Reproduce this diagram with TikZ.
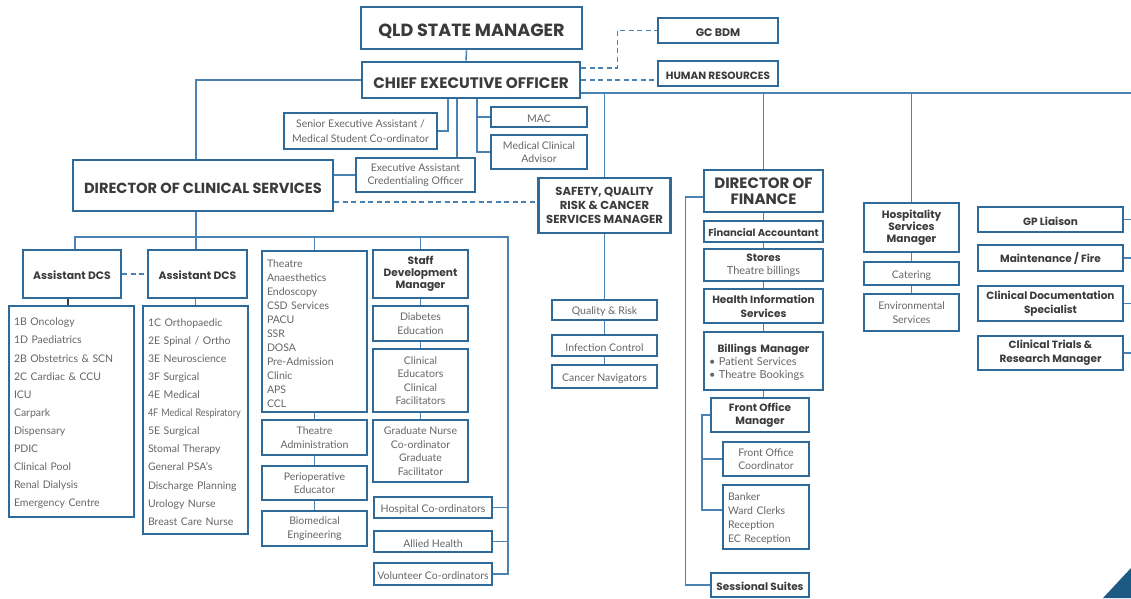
\documentclass[tikz,border=0pt]{standalone}
\usepackage{fontspec}
\setmainfont{Lato}
\newfontfamily\hd{Poppins}
\usetikzlibrary{backgrounds}
\definecolor{boxblue}{HTML}{2F6B9A}
\definecolor{lineblue}{HTML}{4A83B3}
\definecolor{txtdark}{HTML}{3B3B3B}
\definecolor{txtgray}{HTML}{666666}
\definecolor{tricol}{HTML}{1D5A83}
\newcommand\myfs[2]{\fontsize{#1}{#2}\selectfont}
\tikzset{
  every node/.style={execute at begin node={\rule{0pt}{1.1em}}},
  tb/.style={draw=boxblue, line width=2.6pt, fill=white, inner sep=0pt, text=txtdark, align=center},
  nb/.style={draw=boxblue, line width=1.7pt, fill=white, inner sep=0pt, text=txtdark, align=center},
  lb/.style={draw=boxblue, line width=1.4pt, fill=white, inner sep=0pt, text=txtgray, align=center},
  conn/.style={draw=lineblue, line width=1.5pt},
  dconn/.style={draw=lineblue, line width=1.5pt, dash pattern=on 5pt off 3.5pt},
  darkconn/.style={draw=txtdark, line width=1.5pt},
  sz/.style 2 args={minimum width=#1pt, minimum height=#2pt},
  tbig/.style={font=\hd\bfseries\myfs{15.2}{18}},
  tsmall/.style={font=\hd\bfseries\myfs{10.5}{13}},
  tgray/.style={font=\myfs{10.5}{13.5}},
}
\begin{document}
\begin{tikzpicture}[x=1pt,y=-1pt]
\useasboundingbox (0,0) rectangle (1131,598);

% ---------- top ----------
\node[tb, sz={221}{42}, font=\hd\bfseries\myfs{17.6}{20}] (qld) at (471.5,28) {QLD STATE MANAGER};
\node[tb, sz={218}{36}, tbig] (ceo) at (471,80) {CHIEF EXECUTIVE OFFICER};
\node[nb, sz={120}{25}, font=\hd\bfseries\myfs{11}{12}] (gc) at (718,30.5) {GC BDM};
\node[nb, sz={120}{25}, font=\hd\bfseries\myfs{10.5}{12}] (hr) at (718,73.5) {HUMAN RESOURCES};
\node[lb, sz={153}{36}, font=\myfs{10.5}{15}] (sea) at (360.5,131) {Senior Executive Assistant /\\Medical Student Co-ordinator};
\node[lb, sz={119}{34}, tgray] (exa) at (415.5,175) {Executive Assistant\\Credentialing Officer};
\node[lb, sz={96}{20}, tgray] (mac) at (539,117) {MAC};
\node[lb, sz={96}{34}, font=\myfs{10.5}{12.5}] (mca) at (539,152) {Medical Clinical\\Advisor};
\node[tb, sz={260}{51}, font=\hd\bfseries\myfs{14.6}{18}] (dcs) at (203,185.5) {DIRECTOR OF CLINICAL SERVICES};

% ---------- safety ----------
\node[tb, sz={132}{55}, font=\hd\bfseries\myfs{11.6}{13.7}] (saf) at (604.5,205.5) {SAFETY, QUALITY\\RISK \& CANCER\\SERVICES MANAGER};
\node[lb, sz={105}{20}, tgray] (qr) at (604.5,310) {Quality \& Risk};
\node[lb, sz={105}{21}, tgray] (ic) at (604.5,345.5) {Infection Control};
\node[lb, sz={105}{23}, tgray] (cn) at (604.5,376.5) {Cancer Navigators};

% ---------- finance ----------
\node[tb, sz={119}{42}, font=\hd\bfseries\myfs{15}{16}] (dof) at (763.5,191) {DIRECTOR OF\\FINANCE};
\node[nb, sz={119}{21}, font=\hd\bfseries\myfs{10}{13}] (fa) at (763.5,231.5) {Financial Accountant};
\node[nb, sz={119}{32}, tsmall] (st) at (763.5,265) {Stores\\{\rmfamily\mdseries\myfs{11}{13}\color{txtgray}Theatre billings}};
\node[nb, sz={119}{34}, font=\hd\bfseries\myfs{10.5}{14}] (his) at (763.5,306) {Health Information\\Services};
\node[nb, sz={119}{58}, tsmall, align=left, text width=109pt, inner xsep=5pt] (bm) at (763.5,361)
  {\makebox[109pt]{Billings Manager}\\{\rmfamily\mdseries\myfs{11}{13}\color{txtgray}\textbullet\ Patient Services}\\{\rmfamily\mdseries\myfs{11}{13}\color{txtgray}\textbullet\ Theatre Bookings}};
\node[nb, sz={98}{34}, tsmall] (fom) at (760,415) {Front Office\\Manager};
\node[lb, sz={86}{34}, tgray] (foc) at (766,459) {Front Office\\Coordinator};
\node[lb, sz={86}{64}, font=\myfs{10.5}{14}, align=left, text width=76pt, inner xsep=5pt] (bank) at (766,517) {Banker\\Ward Clerks\\Reception\\EC Reception};
\node[nb, sz={98}{24}, tsmall] (ss) at (760,585) {Sessional Suites};

% ---------- hospitality ----------
\node[tb, sz={95}{49}, font=\hd\bfseries\myfs{10.6}{12.2}] (hsm) at (911.5,227.5) {Hospitality\\Services\\Manager};
\node[lb, sz={95}{23}, tgray] (cat) at (911.5,273.5) {Catering};
\node[lb, sz={95}{37}, tgray] (env) at (911.5,312.5) {Environmental\\Services};

% ---------- right column ----------
\node[nb, sz={145}{25}, tsmall] (gp) at (1050.5,219.5) {GP Liaison};
\node[nb, sz={145}{26}, tsmall] (mf) at (1050.5,258) {Maintenance / Fire};
\node[nb, sz={145}{35}, font=\hd\bfseries\myfs{10.5}{14}] (cds) at (1050.5,303.5) {Clinical Documentation\\Specialist};
\node[nb, sz={145}{34}, font=\hd\bfseries\myfs{10.5}{14}] (ctr) at (1050.5,353) {Clinical Trials \&\\Research Manager};

% ---------- clinical services tree ----------
\node[tb, sz={98}{48}, font=\hd\bfseries\myfs{10.8}{13}] (ad1) at (72,274) {Assistant DCS};
\node[tb, sz={99}{48}, font=\hd\bfseries\myfs{10.8}{13}] (ad2) at (197.5,274) {Assistant DCS};
\node[lb, sz={125}{211}, font=\myfs{10.5}{18.1}, align=left, text width=115pt, inner xsep=5pt] (ll) at (71.5,411.5)
  {1B Oncology\\1D Paediatrics\\2B Obstetrics \& SCN\\2C Cardiac \& CCU\\ICU\\Carpark\\Dispensary\\PDIC\\Clinical Pool\\Renal Dialysis\\Emergency Centre};
\node[lb, sz={105}{228}, font=\myfs{10.5}{18.1}, align=left, text width=95pt, inner xsep=5pt] (lr) at (195.5,420)
  {1C Orthopaedic\\2E Spinal / Ortho\\3E Neuroscience\\3F Surgical\\4E Medical\\\scalebox{0.86}[1]{4F Medical Respiratory}\\5E Surgical\\Stomal Therapy\\General PSA’s\\Discharge Planning\\Urology Nurse\\Breast Care Nurse};
\node[lb, sz={105}{161}, font=\myfs{10.5}{14}, align=left, text width=95pt, inner xsep=5pt] (th) at (314.5,331.5)
  {Theatre\\Anaesthetics\\Endoscopy\\CSD Services\\PACU\\SSR\\DOSA\\Pre-Admission\\Clinic\\APS\\CCL};
\node[lb, sz={105}{35}, tgray] (tad) at (314.5,437.5) {Theatre\\Administration};
\node[lb, sz={105}{34}, tgray] (peri) at (314.5,483) {Perioperative\\Educator};
\node[lb, sz={105}{35}, tgray] (bio) at (314.5,528.5) {Biomedical\\Engineering};
\node[tb, sz={95}{48}, font=\hd\bfseries\myfs{10.6}{12.2}] (sdm) at (420.5,274) {Staff\\Development\\Manager};
\node[lb, sz={95}{35}, tgray] (diab) at (420.5,323.5) {Diabetes\\Education};
\node[lb, sz={95}{63}, tgray] (ced) at (420.5,380.5) {Clinical\\Educators\\Clinical\\Facilitators};
\node[lb, sz={95}{62}, tgray] (grad) at (420.5,451) {Graduate Nurse\\Co-ordinator\\Graduate\\Facilitator};
\node[lb, sz={118}{21}, tgray] (hco) at (433,507.5) {Hospital Co-ordinators};
\node[lb, sz={118}{21}, tgray] (ah) at (433,541.5) {Allied Health};
\node[lb, sz={118}{22}, tgray] (vc) at (433,574) {Volunteer Co-ordinators};

\coordinate (topR) at (1131,93);
\coordinate (busR) at (508,237);

\begin{scope}[on background layer]
  % top
  \draw[conn] ([xshift=-5pt]qld.south) -- ([xshift=-5pt]ceo.north);
  \draw[conn] (ceo.west) -| ([xshift=-7pt]dcs.north);
  \draw[conn] (topR) -- (topR -| ceo.east);
  \draw[conn] (saf.north) -- (saf.north |- topR);
  \draw[conn] (dof.north) -- (dof.north |- topR);
  \draw[conn] (hsm.north) -- (hsm.north |- topR);
  \draw[conn] ([xshift=-23pt]ceo.south) |- (sea.east);
  \draw[conn] ([xshift=-14pt]ceo.south) coordinate (ea) -- (ea |- exa.north);
  \draw[conn] ([xshift=6pt]ceo.south) |- (mca.west);
  \draw[conn] (mac.west) -- ++(-14,0);
  \draw[conn] (exa.west) -- (exa.west -| dcs.east);
  \draw[dconn] ([yshift=12pt]ceo.east) -- ++(36,0) |- (gc.west);
  \draw[dconn] (ceo.east) -- (ceo.east -| hr.west);
  \draw[dconn] ([yshift=-16.5pt]dcs.east) coordinate (dd) -- (dd -| saf.west);
  % safety
  \draw[conn] (saf) -- (qr) -- (ic) -- (cn);
  % finance
  \draw[conn] (dof) -- (fa) -- (st) -- (his) -- (bm);
  \draw[conn] (bm.south) -- (bm.south |- fom.north);
  \draw[conn] (fom.west) -- ++(-8,0) |- ([yshift=7pt]bank.west);
  \draw[conn] (foc.west) -- ++(-20,0);
  \draw[conn] ([yshift=-6pt]dof.west) -- ++(-17,0) |- (ss.west);
  % hospitality
  \draw[conn] (hsm) -- (cat) -- (env);
  % right column
  \draw[conn] (gp.east) -- ++(10,0);
  \draw[conn] (mf.east) -- ++(10,0);
  \draw[conn] (cds.east) -- ++(10,0);
  \draw[conn] (ctr.east) -- ++(10,0);
  % clinical tree
  \draw[conn] ([xshift=3pt]ad1.north) |- (busR) |- (vc.east);
  \draw[conn] ([xshift=-7pt]dcs.south) -- ([xshift=-1.5pt]ad2.north);
  \draw[dconn] (ad1.east) -- (ad2.west);
  \draw[darkconn] ([xshift=-4pt]ad1.south) coordinate (a1) -- (a1 |- ll.north);
  \draw[conn] (lr.north) -- (lr.north |- ad2.south);
  \draw[conn] (th.north) -- (th.north |- busR);
  \draw[conn] (th) -- (tad) -- (peri) -- (bio);
  \draw[conn] (sdm.north) -- (sdm.north |- busR);
  \draw[conn] (sdm) -- (diab) -- (ced) -- (grad);
  \draw[conn] (hco.east) -- (hco.east -| busR);
  \draw[conn] (ah.east) -- (ah.east -| busR);
\end{scope}

\fill[tricol] (1103,598) -- (1131,568) -- (1131,598) -- cycle;
\end{tikzpicture}
\end{document}
